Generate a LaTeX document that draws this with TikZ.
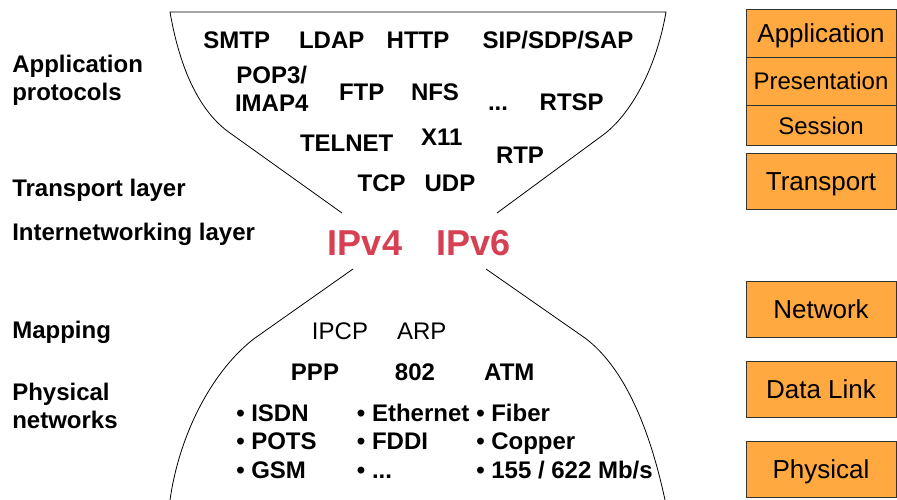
\documentclass[tikz,border=0pt]{standalone}
\usepackage{fontspec}
\setmainfont{Liberation Sans}
\usetikzlibrary{positioning}
\definecolor{ipred}{RGB}{214,64,82}
\definecolor{osiorange}{RGB}{255,169,64}

\begin{document}
\begin{tikzpicture}[x=0.75pt, y=-0.75pt,
  proto/.style={font=\bfseries\fontsize{18}{21.25}\selectfont, inner sep=0pt, anchor=base},
  mapping/.style={font=\fontsize{18}{21.25}\selectfont, inner sep=0pt, anchor=base},
  side/.style={font=\bfseries\fontsize{18}{20.8}\selectfont, inner sep=0pt, anchor=base west, align=left},
  bullets/.style={proto, anchor=base west, align=left},
  ip/.style={font=\bfseries\fontsize{27}{30}\selectfont, text=ipred, inner sep=0pt, anchor=base},
  layer/.style={draw=black!80, fill=osiorange, minimum width=112.5pt, inner sep=0pt,
    text height=13.5pt, text depth=0pt, font=\fontsize{19.5}{22}\selectfont},
  sublayer/.style={layer, font=\fontsize{18}{20}\selectfont, text height=12.9pt}]
\useasboundingbox (0,0) rectangle (897,500);

% hourglass
\draw[line width=0.6pt] (342,213) -- (230,133) .. controls (200,112) and (180,70) .. (170,12)
  -- (666,12) .. controls (656,70) and (630,115) .. (603,135) -- (497,213);
\draw[line width=0.6pt] (353,269) -- (255,338) .. controls (215,368) and (180,430) .. (170,500);
\draw[line width=0.6pt] (486,269) -- (585,338) .. controls (625,368) and (650,430) .. (665,500);

% left labels (multi-line: base is the last line)
\node[side] (lapp) at (12,100) {Application\\protocols};
\node[side] (ltrans) at (12,196.7) {Transport layer};
\node[side] (linet) at (12,240) {Internetworking layer};
\node[side] (lmap) at (12,338.3) {Mapping};
\node[side] (lphys) at (12,428.3) {Physical\\networks};

% application protocols
\node[proto] (smtp) at (236.7,48.3) {SMTP};
\node[proto] (ldap) at (331.7,48.3) {LDAP};
\node[proto] (http) at (418,48.3) {HTTP};
\node[proto] (sip) at (558,48.3) {SIP/SDP/SAP};
\node[proto, align=center] (pop) at (271.7,111.7) {POP3/\\IMAP4};
\node[proto] (ftp) at (361.7,100) {FTP};
\node[proto] (nfs) at (435,100) {NFS};
\node[proto] (dots) at (498,110) {...};
\node[proto] (rtsp) at (571.7,110) {RTSP};
\node[proto] (telnet) at (346.7,151.7) {TELNET};
\node[proto] (x11) at (441.7,145) {X11};
\node[proto] (rtp) at (520,163.3) {RTP};
\node[proto] (tcp) at (381.7,191.7) {TCP};
\node[proto] (udp) at (450,191.7) {UDP};

% internetworking
\node[ip] (ipv4) at (365,255) {IPv4};
\node[ip] (ipv6) at (473.7,255) {IPv6};

% mapping and links
\node[mapping] (ipcp) at (340,339.3) {IPCP};
\node[mapping] (arp) at (421.7,339.3) {ARP};
\node[proto] (ppp) at (315,380.7) {PPP};
\node[proto] (ieee) at (415,380.7) {802};
\node[proto] (atm) at (509.3,380.7) {ATM};
\node[bullets] (physa) at (236,478.3) {• ISDN\\• POTS\\• GSM};
\node[bullets] (physb) at (356.7,478.3) {• Ethernet\\• FDDI\\• ...};
\node[bullets] (physc) at (476,478.3) {• Fiber\\• Copper\\• 155 / 622 Mb/s};

% OSI layers
\node[layer, minimum height=36pt] (app) at (821,33.3) {Application};
\node[sublayer, minimum height=36pt] (pres) at (821,81.3) {Presentation};
\node[sublayer, minimum height=30.3pt] (sess) at (821,125.5) {Session};
\node[layer, minimum height=42pt] (trans) at (821,181.3) {Transport};
\node[layer, minimum height=42pt] (net) at (821,309.5) {Network};
\node[layer, minimum height=42pt] (dlink) at (821,389.5) {Data Link};
\node[layer, minimum height=42pt] (phys) at (821,469.5) {Physical};
\end{tikzpicture}
\end{document}
